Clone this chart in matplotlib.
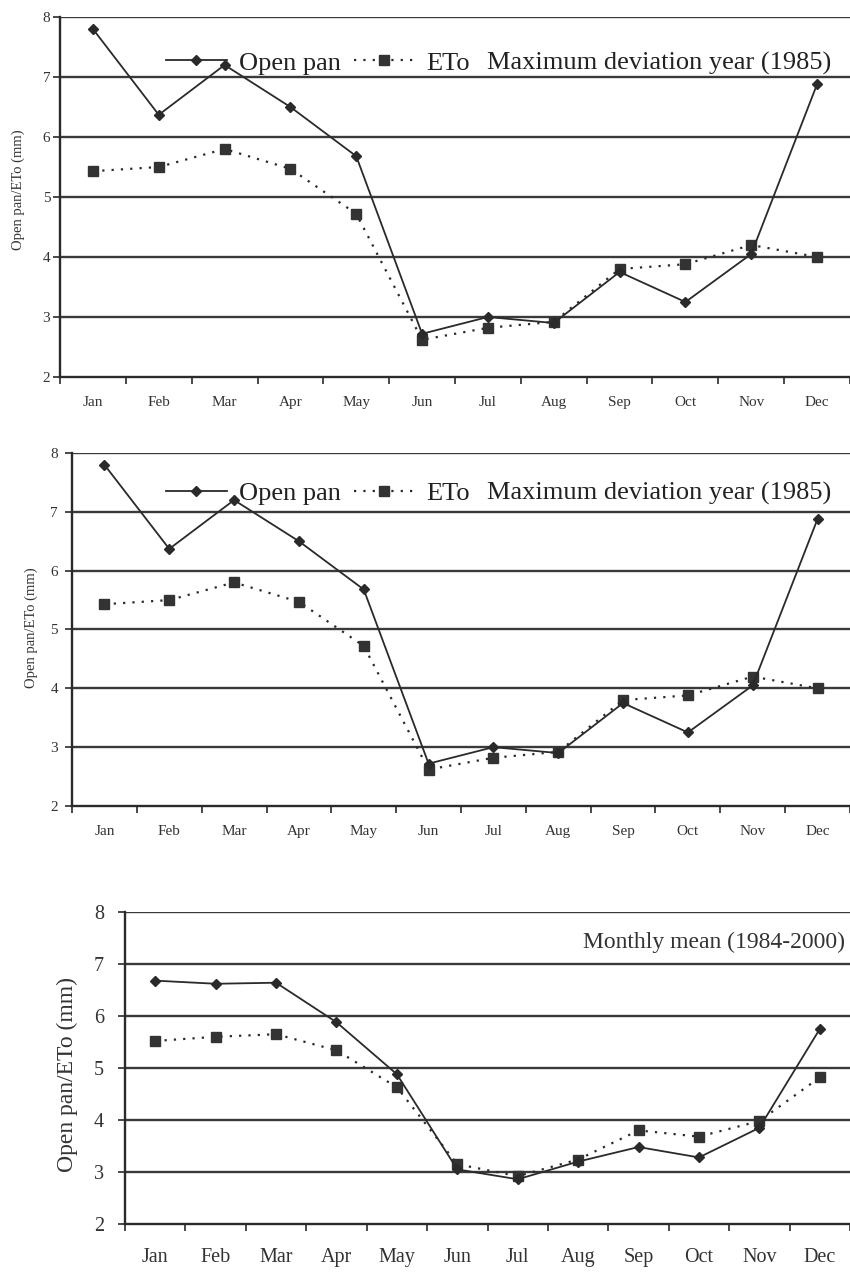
import matplotlib
matplotlib.use('Agg')
import matplotlib.pyplot as plt
from matplotlib.lines import Line2D

months = ['Jan', 'Feb', 'Mar', 'Apr', 'May', 'Jun',
          'Jul', 'Aug', 'Sep', 'Oct', 'Nov', 'Dec']

# maximum deviation year (1985)
pan_1985 = [7.8, 6.37, 7.2, 6.5, 5.68, 2.72, 3.0, 2.9, 3.75, 3.25, 4.05, 6.88]
eto_1985 = [5.43, 5.5, 5.8, 5.47, 4.72, 2.62, 2.82, 2.92, 3.8, 3.88, 4.2, 4.0]

# monthly mean (1984-2000)
pan_mean = [6.68, 6.62, 6.64, 5.88, 4.88, 3.05, 2.86, 3.2, 3.48, 3.28, 3.85, 5.75]
eto_mean = [5.52, 5.6, 5.65, 5.34, 4.63, 3.15, 2.92, 3.24, 3.8, 3.68, 3.98, 4.82]

W, H = 850, 1280
FONT = 'Liberation Serif'
INK = '#2a2a2a'
TXT = '#333333'

fig = plt.figure(figsize=(W / 100, H / 100), dpi=100)
fig.patch.set_facecolor('white')


def add_panel(left, top, bottom, right=850):
    return fig.add_axes([left / W, 1 - bottom / H, (right - left) / W, (bottom - top) / H])


def draw_panel(ax, pan, eto, step, tick_fs, xpad, ypad):
    x = list(range(len(months)))
    width_px = ax.get_position().width * W
    ax.set_xlim(-0.5, -0.5 + width_px / step)
    ax.set_ylim(2, 8)
    for v in range(3, 9):
        ax.axhline(v, color='#3a3a3a', lw=1.7, zorder=1)
    ax.plot(x, eto, ls=(0, (1, 3.2)), lw=1.6, color=INK, marker='s',
            ms=7, mfc='#333333', mec='#333333', zorder=3)
    ax.plot(x, pan, ls='-', lw=1.3, color=INK, marker='D',
            ms=5, mfc=INK, mec=INK, zorder=4)
    for s in ['top', 'right']:
        ax.spines[s].set_visible(False)
    for s in ['left', 'bottom']:
        ax.spines[s].set_color(INK)
        ax.spines[s].set_linewidth(1.7)
    ax.spines['left'].set_bounds(2, 8)
    ax.set_xticks([i - 0.5 for i in range(13)])
    ax.set_xticklabels([])
    ax.set_xticks(x, minor=True)
    ax.set_xticklabels(months, minor=True, fontsize=tick_fs, family=FONT, color=TXT)
    ax.tick_params(axis='x', which='major', direction='out', length=5, width=1.2, color=INK)
    ax.tick_params(axis='x', which='minor', length=0, pad=xpad)
    ax.set_yticks(range(2, 9))
    ax.set_yticklabels([str(v) for v in range(2, 9)], fontsize=tick_fs, family=FONT, color=TXT)
    ax.tick_params(axis='y', direction='out', length=5, width=1.2, color=INK, pad=ypad)


# top two panels: the 1985 year (printed twice)
for left, top, bottom, ylab_x, ylab_y, leg_dy, ypad in [(60, 17, 377, 18, 190, 46, 2),
                                                        (72, 453, 806, 31, 628, 40, 5)]:
    ax = add_panel(left, top, bottom)
    draw_panel(ax, pan_1985, eto_1985, step=66.2, tick_fs=11, xpad=14, ypad=ypad)
    fig.text(ylab_x / W, 1 - ylab_y / H, 'Open pan/ETo (mm)', rotation=90,
             fontsize=10.5, family=FONT, color=TXT, ha='center', va='center')
    handles = [Line2D([], [], color=INK, lw=1.3, marker='D', ms=5, mfc=INK, mec=INK),
               Line2D([], [], color=INK, lw=1.6, ls=(0, (1, 3.2)), marker='s', ms=7,
                      mfc='#333333', mec='#333333')]
    ax.legend(handles, ['Open pan', 'ETo'], ncol=2, frameon=False,
              loc='center left', bbox_to_anchor=((166 - left) / (850 - left), 1 - leg_dy / (bottom - top)),
              prop={'family': FONT, 'size': 19}, handlelength=2.3, handletextpad=0.45,
              columnspacing=0.5, borderaxespad=0, borderpad=0, labelcolor='#222222')
    fig.text(487 / W, 1 - (top + leg_dy) / H, 'Maximum deviation year (1985)', fontsize=19,
             family=FONT, color='#222222', ha='left', va='center')

# bottom panel: monthly mean
ax3 = add_panel(125, 912, 1224)
draw_panel(ax3, pan_mean, eto_mean, step=61.5, tick_fs=14.5, xpad=17, ypad=10)
fig.text(67 / W, 1 - 1075 / H, 'Open pan/ETo (mm)', rotation=90, fontsize=17,
         family=FONT, color=TXT, ha='center', va='center')
fig.text(845 / W, 1 - 942 / H, 'Monthly mean (1984-2000)', fontsize=17, family=FONT,
         color=TXT, ha='right', va='center')

fig.savefig('out.png', dpi=100, facecolor='white')
